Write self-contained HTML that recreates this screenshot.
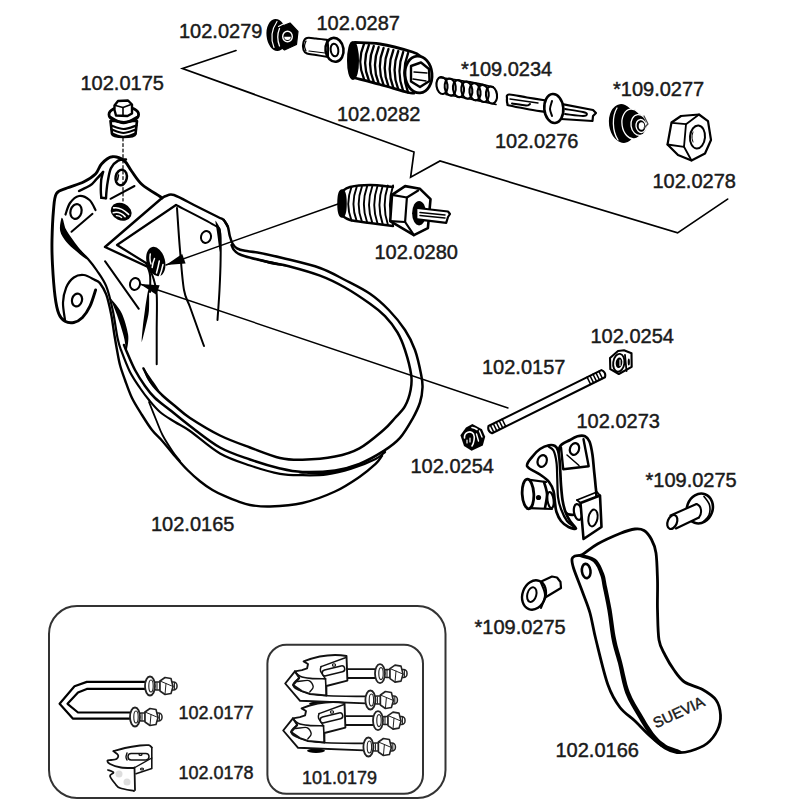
<!DOCTYPE html>
<html><head><meta charset="utf-8">
<style>
html,body{margin:0;padding:0;background:#fff;width:800px;height:800px;overflow:hidden}
svg{position:absolute;left:0;top:0}
text{font-family:"Liberation Sans",sans-serif;fill:#1a1a1a;stroke:#1a1a1a;stroke-width:0.45px}
</style></head><body>
<svg width="800" height="800" viewBox="0 0 800 800">
<g fill="none" stroke="#000" stroke-linecap="round" stroke-linejoin="miter">
<path d="M236.0,50.5 L182.5,68.5 L414.0,152.0 L410.6,177.3 L440.0,161.0 L677.6,232.9 L727.6,199.1" stroke-width="1.7" fill="none" />
<path d="M338.0,204.0 L166.0,265.0" stroke-width="1.4" fill="none" />
<path d="M140.0,284.0 L508.0,408.0" stroke-width="1.4" fill="none" />
</g>
<path d="M166.0,265.0 L185.6,263.4 L182.2,253.9 Z" fill="#000" stroke="none"/>
<path d="M140.0,284.0 L156.4,294.8 L159.6,285.3 Z" fill="#000" stroke="none"/>
<g fill="none" stroke="#333" stroke-width="2">
<rect x="49" y="606" width="396.5" height="192" rx="28"/>
<rect x="267.4" y="644.75" width="155.6" height="149" rx="19"/>
</g>
<g fill="none" stroke="#000" stroke-linecap="round" stroke-linejoin="round">
<path d="M162.0,198.0 C161.7,197.8 163.3,198.8 160.0,196.5 C156.7,194.2 146.8,188.8 142.0,184.5 C137.2,180.2 134.5,175.0 131.5,171.0 C128.5,167.0 127.2,162.9 124.0,160.5 C120.8,158.1 115.8,156.2 112.0,156.8 C108.2,157.3 104.2,161.1 101.5,164.0 C98.8,166.9 98.5,171.0 95.5,174.0 C92.5,177.0 88.2,179.7 83.5,182.0 C78.8,184.3 71.5,186.1 67.0,188.0 C62.5,189.9 58.8,189.8 56.5,193.5 C54.2,197.2 54.2,202.2 53.5,210.0 C52.8,217.8 52.2,230.8 52.0,240.0 C51.8,249.2 52.0,255.7 52.5,265.0 C53.0,274.3 54.0,287.9 55.0,296.0 C56.0,304.1 57.1,309.5 58.8,313.8 C60.4,318.0 62.5,319.8 65.0,321.2 C67.5,322.7 70.8,323.1 73.8,322.5 C76.7,321.9 79.8,320.2 82.5,317.5 C85.2,314.8 87.8,310.8 90.0,306.2 C92.2,301.7 94.7,292.7 95.6,290.0" stroke-width="2.9" fill="none" />
<path d="M65.0,320.0 C64.7,317.1 62.8,307.9 63.0,302.5 C63.2,297.1 64.5,291.7 66.2,287.5 C68.0,283.3 70.8,279.6 73.8,277.5 C76.7,275.4 80.2,274.6 83.8,275.0 C87.3,275.4 93.1,279.2 95.0,280.0" stroke-width="2.2" fill="none" />
<path d="M103.1,171.9 C102.8,173.2 101.6,177.0 101.2,180.0 C100.9,183.0 100.8,187.0 100.8,190.0 C100.8,193.0 101.2,196.5 101.3,197.8" stroke-width="2.4" fill="none" />
<path d="M101.3,197.8 L106.0,198.2" stroke-width="2.4" fill="none" />
<path d="M106.0,198.2 C106.1,196.8 106.3,192.8 106.6,190.0 C106.9,187.2 107.1,184.9 107.8,181.2 C108.5,177.6 109.3,171.5 111.0,168.1 C112.7,164.7 115.6,162.0 118.1,160.6 C120.6,159.2 124.7,159.7 126.0,159.5" stroke-width="2.4" fill="none" />
<path d="M79.0,191.0 C80.8,190.1 87.1,187.5 90.0,185.6 C92.9,183.7 94.1,181.7 96.2,179.4 C98.4,177.1 102.0,173.2 103.1,171.9" stroke-width="2.4" fill="none" />
<path d="M65.5,214.5 C66.2,212.6 67.8,206.1 70.0,203.0 C72.2,199.9 75.8,196.5 79.0,196.0 C82.2,195.5 86.8,197.7 89.5,200.0 C92.2,202.3 94.5,208.3 95.5,210.0" stroke-width="2.2" fill="none" />
<ellipse cx="121.2" cy="177.5" rx="5.6" ry="7.8" transform="rotate(12 121.2 177.5)" stroke-width="2.5" fill="none" />
<path d="M118.5,175.0 L117.5,180.0" stroke-width="1.5" fill="none" />
<ellipse cx="76.0" cy="211.5" rx="5.5" ry="7.5" transform="rotate(15 76.0 211.5)" stroke-width="2.2" fill="none" />
<ellipse cx="77.0" cy="300.0" rx="5.0" ry="6.5" transform="rotate(15 77.0 300.0)" stroke-width="2.2" fill="none" />
<ellipse cx="135.0" cy="284.0" rx="5.0" ry="6.0" transform="rotate(15 135.0 284.0)" stroke-width="2" fill="none" />
<ellipse cx="206.0" cy="237.0" rx="5.0" ry="6.0" transform="rotate(15 206.0 237.0)" stroke-width="2" fill="none" />
<path d="M110.5,198.8 L134.5,186.0" stroke-width="2" fill="none" />
<path d="M71.5,231.8 L92.5,213.8" stroke-width="2" fill="none" />
<path d="M105.0,261.2 L138.8,308.8" stroke-width="2" fill="none" />
<ellipse cx="121.2" cy="211.8" rx="10.8" ry="8.6" transform="rotate(25 121.2 211.8)" stroke-width="0" fill="#000" stroke="none"/>
<path d="M113.7,207.9 Q120.5,206.5 128.6,214.4" stroke="#fff" stroke-width="1.6" fill="none"/>
<path d="M113.3,212.7 Q119.5,210.8 125.1,216.6" stroke="#fff" stroke-width="1.6" fill="none"/>
<path d="M116.4,215.6 Q119.5,215.5 121.6,217.4" stroke="#fff" stroke-width="1.4" fill="none"/>
<path d="M61.2,219.1 C60.8,221.1 59.3,227.1 60.2,230.9 C61.0,234.8 63.9,238.6 66.4,241.9 C69.0,245.2 72.2,247.7 75.4,250.5 C78.6,253.3 83.6,257.4 85.4,258.6 C87.3,259.7 87.7,259.3 86.6,257.4 C85.4,255.6 81.1,250.7 78.6,247.5 C76.1,244.3 73.7,241.2 71.6,238.1 C69.5,235.0 67.3,232.2 65.8,229.1 C64.4,225.9 63.6,220.6 62.8,218.9 C62.0,217.3 61.6,217.1 61.2,219.1Z" stroke="none" fill="#000"/>
<path d="M227.5,226.2 C226.9,225.2 225.3,221.5 223.8,220.0 C222.2,218.5 222.6,219.3 218.0,217.0 C213.4,214.7 203.3,209.7 196.0,206.0 C188.7,202.3 179.0,196.7 174.0,195.0 C169.0,193.3 168.0,195.5 166.0,196.0 C164.0,196.5 162.7,197.7 162.0,198.0" stroke-width="2.4" fill="none" />
<path d="M162.0,198.0 L105.0,247.0 L148.0,267.0" stroke-width="2.4" fill="none" />
<path d="M148.0,267.0 C148.8,268.7 151.6,272.4 153.0,277.0 C154.4,281.6 156.1,285.6 156.7,294.4 C157.3,303.2 156.7,318.4 156.7,330.0 C156.7,341.6 156.7,358.6 156.7,364.3" stroke-width="2" fill="none" />
<path d="M176.0,205.0 L117.0,245.0 L146.0,263.0" stroke-width="2.2" fill="none" />
<path d="M146.0,263.0 C146.7,265.0 149.3,270.2 150.0,275.0 C150.7,279.8 150.0,289.2 150.0,292.0" stroke-width="2" fill="none" />
<path d="M148.0,291.1 C147.3,294.3 145.7,304.7 144.9,310.4 C144.1,316.0 143.6,319.8 143.0,324.8 C142.5,329.7 141.8,337.4 141.7,340.0 C141.6,342.5 141.6,342.5 142.3,340.0 C143.0,337.6 144.9,330.1 146.0,325.2 C147.1,320.4 148.4,316.5 148.9,310.8 C149.4,305.2 149.1,294.4 149.0,291.1 C148.9,287.8 148.7,287.9 148.0,291.1Z" stroke="none" fill="#000"/>
<path d="M176.0,205.0 C182.3,208.3 206.7,220.5 214.0,225.0 C221.3,229.5 218.9,226.2 220.0,232.0 C221.1,237.8 220.7,250.3 220.6,260.0 C220.5,269.7 220.0,280.0 219.5,290.0 C219.0,300.0 217.8,315.0 217.5,320.0" stroke-width="2" fill="none" />
<path d="M215.5,222.1 C215.6,223.9 216.4,227.6 217.0,232.3 C217.7,236.9 218.9,247.1 219.5,250.0 C220.1,253.0 220.3,253.0 220.5,250.0 C220.7,246.9 221.6,236.4 221.0,231.7 C220.3,227.0 217.4,223.5 216.5,221.9 C215.6,220.3 215.4,220.4 215.5,222.1Z" stroke="none" fill="#000"/>
<path d="M177.0,208.0 C177.5,215.0 178.8,236.3 180.0,250.0 C181.2,263.7 182.3,280.5 184.0,290.0 C185.7,299.5 187.3,299.5 190.0,307.0 C192.7,314.5 197.7,328.5 200.0,335.0 C202.3,341.5 203.3,344.2 204.0,346.0" stroke-width="2" fill="none" />
<ellipse cx="155.8" cy="261.5" rx="9.2" ry="15.0" transform="rotate(-14 155.8 261.5)" stroke-width="0" fill="#000" stroke="none"/>
<path d="M150.3,254 Q149.3,259.5 151,264" stroke="#fff" stroke-width="1.4" fill="none"/>
<path d="M154.5,258.5 Q152.5,263.5 152.2,267.5" stroke="#fff" stroke-width="1.5" fill="none"/>
<path d="M159.3,261 Q158.2,267 156.5,273" stroke="#fff" stroke-width="1.5" fill="none"/>
<path d="M163,264.5 Q161.6,271.5 159.2,277" stroke="#fff" stroke-width="1.5" fill="none"/>
<path d="M124.0,345.0 C124.3,345.8 124.2,345.8 126.0,350.0 C127.8,354.2 131.8,364.0 135.0,370.0 C138.2,376.0 141.7,381.3 145.0,386.0 C148.3,390.7 150.8,394.0 155.0,398.0 C159.2,402.0 164.2,405.3 170.0,410.0 C175.8,414.7 181.7,419.8 190.0,426.0 C198.3,432.2 210.0,441.9 220.0,447.5 C230.0,453.1 240.0,456.0 250.0,459.5 C260.0,463.0 271.2,466.4 280.0,468.5 C288.8,470.6 293.3,471.7 302.5,472.0 C311.7,472.3 325.5,471.8 335.0,470.4 C344.5,469.0 351.3,467.1 359.4,463.9 C367.5,460.6 377.0,455.2 383.8,450.9 C390.5,446.6 395.2,443.3 400.0,437.9 C404.8,432.5 409.2,424.6 412.5,418.8 C415.8,412.9 418.3,407.7 420.0,402.5 C421.7,397.3 422.3,392.1 422.5,387.5 C422.7,382.9 422.5,381.2 421.2,375.0 C420.0,368.8 417.7,357.5 415.0,350.0 C412.3,342.5 409.4,336.7 405.0,330.0 C400.6,323.3 394.6,316.0 388.8,310.0 C382.9,304.0 377.3,298.8 370.0,293.8 C362.7,288.8 353.3,284.3 345.0,280.0 C336.7,275.7 330.4,271.7 320.0,268.0 C309.6,264.3 292.9,260.6 282.5,258.0 C272.1,255.4 263.8,253.7 257.5,252.5 C251.2,251.3 248.4,251.5 245.0,250.8 C241.6,250.1 239.1,249.5 237.0,248.3 C234.9,247.1 233.7,245.6 232.5,243.5 C231.3,241.4 230.6,238.8 229.8,236.0 C229.0,233.2 228.8,229.2 227.8,226.5 C226.8,223.8 224.4,221.1 223.8,220.0" stroke-width="2.5" fill="none" />
<path d="M143.5,368.5 C144.9,371.1 148.9,379.6 152.0,384.0 C155.1,388.4 158.2,391.3 162.0,395.0 C165.8,398.7 170.3,402.2 175.0,406.0 C179.7,409.8 182.5,413.1 190.0,418.0 C197.5,422.9 210.0,430.6 220.0,435.5 C230.0,440.4 240.0,443.8 250.0,447.5 C260.0,451.2 271.2,455.9 280.0,458.0 C288.8,460.1 293.3,460.0 302.5,459.8 C311.7,459.6 325.5,458.5 335.0,456.6 C344.5,454.7 351.3,452.9 359.4,448.4 C367.5,443.9 377.8,434.8 383.8,429.8 C389.7,424.7 391.5,421.9 395.0,418.0 C398.5,414.1 402.4,410.9 405.0,406.2 C407.6,401.6 409.6,395.2 410.6,390.0 C411.6,384.8 412.2,381.7 411.2,375.0 C410.3,368.3 407.3,357.1 405.0,350.0 C402.7,342.9 400.8,338.1 397.5,332.5 C394.2,326.9 389.6,321.0 385.0,316.2 C380.4,311.5 376.7,308.5 370.0,303.8 C363.3,299.0 353.3,292.2 345.0,287.5 C336.7,282.8 329.4,279.1 320.0,275.6 C310.6,272.1 297.1,268.4 288.8,266.2 C280.4,264.1 277.3,264.2 270.0,262.5 C262.7,260.8 250.3,257.8 245.0,256.2 C239.7,254.8 239.9,254.6 238.0,253.5 C236.1,252.4 234.9,251.2 233.8,249.8 C232.7,248.4 231.9,245.8 231.5,245.0" stroke-width="2.5" fill="none" />
<path d="M143.1,368.7 C143.8,370.9 146.1,377.4 148.5,381.0 C150.9,384.6 155.7,389.1 157.4,390.5 C159.1,391.9 159.6,391.4 158.6,389.5 C157.6,387.6 153.9,382.5 151.5,379.0 C149.0,375.5 145.3,370.0 143.9,368.3 C142.5,366.5 142.3,366.6 143.1,368.7Z" stroke="none" fill="#000"/>
<path d="M251.9,258.3 C254.9,259.3 263.4,262.4 269.7,263.9 C276.0,265.3 286.5,266.4 289.9,266.8 C293.3,267.2 293.3,267.1 290.1,266.2 C286.8,265.3 276.6,262.5 270.3,261.1 C264.0,259.7 255.1,258.2 252.1,257.7 C249.0,257.2 249.0,257.3 251.9,258.3Z" stroke="none" fill="#000"/>
<path d="M80.0,251.0 C81.3,252.3 85.2,255.8 88.0,259.0 C90.8,262.2 93.5,265.5 96.5,270.0 C99.5,274.5 103.5,279.5 106.2,286.2 C109.0,293.0 110.9,301.9 112.8,310.6 C114.7,319.3 116.2,331.7 117.6,338.3 C119.0,344.9 118.9,344.4 121.0,350.0 C123.1,355.6 126.8,365.7 130.0,372.0 C133.2,378.3 136.8,383.3 140.0,388.0 C143.2,392.7 145.7,396.0 149.0,400.0 C152.3,404.0 155.7,408.3 160.0,412.0 C164.3,415.7 170.0,418.8 175.0,422.0 C180.0,425.2 182.5,425.8 190.0,431.0 C197.5,436.2 210.0,447.8 220.0,453.5 C230.0,459.2 240.0,462.1 250.0,465.5 C260.0,468.9 271.2,472.1 280.0,473.8 C288.8,475.4 294.7,475.1 302.5,475.2 C310.3,475.4 318.8,475.5 326.9,474.4 C335.0,473.3 343.1,471.3 351.2,468.8 C359.4,466.2 370.0,461.8 375.6,459.0 C381.2,456.2 383.4,453.2 385.0,452.0" stroke-width="2.2" fill="none" />
<path d="M300.0,473.7 C305.0,473.8 321.0,475.0 330.2,473.9 C339.4,472.8 347.9,469.9 355.4,467.1 C362.9,464.4 371.9,459.0 375.1,457.3 C378.4,455.5 378.3,455.5 374.9,456.7 C371.5,458.0 362.1,462.5 354.6,464.9 C347.1,467.3 338.9,469.7 329.8,471.1 C320.7,472.5 305.0,472.9 300.0,473.3 C295.0,473.7 295.0,473.6 300.0,473.7Z" stroke="none" fill="#000"/>
<path d="M95.0,280.0 C95.8,280.5 97.9,280.6 99.8,283.0 C101.6,285.4 104.4,289.2 106.2,294.4 C108.1,299.5 109.7,307.1 111.1,313.9 C112.5,320.7 113.4,329.0 114.4,335.0 C115.4,341.0 116.1,345.0 117.0,350.0 C117.9,355.0 118.7,360.0 120.0,365.0 C121.3,370.0 123.0,374.5 125.0,380.0 C127.0,385.5 129.2,392.2 132.0,398.0 C134.8,403.8 138.7,409.7 142.0,415.0 C145.3,420.3 148.6,425.6 152.0,430.0 C155.4,434.4 158.7,436.9 162.5,441.2 C166.3,445.6 170.8,451.5 175.0,456.2 C179.2,461.0 183.3,465.8 187.5,470.0 C191.7,474.2 195.8,477.9 200.0,481.2 C204.2,484.6 208.3,487.5 212.5,490.0 C216.7,492.5 220.8,494.4 225.0,496.2 C229.2,498.1 233.3,499.8 237.5,501.2 C241.7,502.7 244.6,504.1 250.0,505.0 C255.4,505.9 261.2,506.8 270.0,506.5 C278.8,506.2 291.7,505.5 302.5,503.0 C313.3,500.5 325.5,495.9 335.0,491.5 C344.5,487.1 352.6,481.5 359.4,476.9 C366.2,472.3 371.8,467.4 375.6,463.9 C379.4,460.4 380.9,457.1 382.0,455.8" stroke-width="2.4" fill="none" />
<path d="M149.0,402.0 C150.2,405.0 154.0,414.5 156.2,420.0 C158.5,425.5 159.8,429.8 162.5,435.0 C165.2,440.2 169.6,446.9 172.5,451.2 C175.4,455.6 178.8,459.4 180.0,461.0" stroke-width="1.8" fill="none" />
<path d="M110.8,299.4 C111.8,302.1 114.9,308.8 117.0,314.9 C119.1,320.9 122.0,329.6 123.5,335.5 C125.1,341.3 125.6,347.4 126.2,349.7 C126.8,352.1 126.7,352.2 127.0,349.7 C127.3,347.1 129.0,340.7 128.1,334.5 C127.2,328.4 124.4,318.8 121.6,312.9 C118.8,307.1 113.2,301.4 111.4,299.2 C109.6,296.9 109.9,296.8 110.8,299.4Z" stroke="none" fill="#000"/>
<path d="M123.0,138.0 L123.0,201.0" stroke-width="1.2" fill="none" stroke-dasharray="3,2.5"/>
<path d="M110.5,121 L112,134 C113,138 134,138 135.5,134 L137,121 Z" stroke-width="2.6" fill="#fff"/>
<path d="M111.0,125.5 C113.1,126.1 119.2,129.0 123.5,129.0 C127.8,129.0 134.3,126.1 136.5,125.5" stroke-width="2.2" fill="none" />
<path d="M111.5,129.5 C113.5,130.1 119.4,133.0 123.5,133.0 C127.6,133.0 133.9,130.1 136.0,129.5" stroke-width="2.2" fill="none" />
<path d="M112.0,133.5 C113.9,134.1 119.6,137.0 123.5,137.0 C127.4,137.0 133.5,134.1 135.5,133.5" stroke-width="2.2" fill="none" />
<ellipse cx="123.8" cy="114.5" rx="14.8" ry="7.8" transform="rotate(0 123.8 114.5)" stroke-width="2.8" fill="#fff" />
<path d="M110.0,117.0 C112.2,118.0 118.9,123.0 123.5,123.0 C128.1,123.0 135.2,118.0 137.5,117.0" stroke-width="2.6" fill="none" />
<path d="M114.5,105.5 L118.0,101.0 L128.0,100.5 L132.0,104.5 L132.0,113.5 L127.5,116.0 L116.0,115.5 L114.5,110.0Z" stroke-width="2.4" fill="#fff" />
<path d="M115.5,105.5 L123.0,107.5 L131.0,104.5" stroke-width="1.6" fill="none" />
<path d="M123.0,107.5 L123.0,115.5" stroke-width="1.6" fill="none" />
<path d="M342,192 L393,185 L393,226 L342,216 Z" stroke="none" fill="#fff"/>
<path d="M341.0,192.0 C342.5,191.2 345.2,188.2 350.0,187.0 C354.8,185.8 362.8,185.0 370.0,185.0 C377.2,185.0 389.2,186.7 393.0,187.0" stroke-width="2.4" fill="none" />
<path d="M341.0,215.0 C342.5,215.8 345.2,218.7 350.0,220.0 C354.8,221.3 362.8,222.0 370.0,223.0 C377.2,224.0 389.2,225.5 393.0,226.0" stroke-width="2.4" fill="none" />
<ellipse cx="342.0" cy="203.5" rx="3.5" ry="13.0" transform="rotate(0 342.0 203.5)" stroke-width="2.5" fill="#000" />
<path d="M351.5,187.0 Q345.0,203.8 351.5,220.5" stroke-width="1.9" fill="none"/>
<path d="M356.7,186.8 Q350.2,203.9 356.7,221.1" stroke-width="1.9" fill="none"/>
<path d="M361.9,186.6 Q355.4,204.1 361.9,221.7" stroke-width="1.9" fill="none"/>
<path d="M367.1,186.4 Q360.6,204.4 367.1,222.3" stroke-width="1.9" fill="none"/>
<path d="M372.3,186.2 Q365.8,204.6 372.3,222.9" stroke-width="1.9" fill="none"/>
<path d="M377.5,186.0 Q371.0,204.8 377.5,223.5" stroke-width="1.9" fill="none"/>
<path d="M382.7,185.8 Q376.2,204.9 382.7,224.1" stroke-width="1.9" fill="none"/>
<path d="M387.9,185.6 Q381.4,205.1 387.9,224.7" stroke-width="1.9" fill="none"/>
<path d="M393.1,185.4 Q386.6,205.4 393.1,225.3" stroke-width="1.9" fill="none"/>
<path d="M392.0,194.9 L405.1,186.1 L420.0,188.8 L430.5,199.2 L427.9,228.1 L413.9,235.1 L390.2,221.1Z" stroke-width="2.6" fill="#fff" />
<path d="M392.0,194.9 L406.9,197.5 L418.2,190.5" stroke-width="2.2" fill="none" />
<path d="M406.9,197.5 L405.1,222.0 L390.2,221.1" stroke-width="2.2" fill="none" />
<path d="M405.1,222.0 L413.9,235.1" stroke-width="2.2" fill="none" />
<ellipse cx="419.1" cy="213.2" rx="7.0" ry="12.2" transform="rotate(0 419.1 213.2)" stroke-width="0" fill="#000" stroke="none"/>
<path d="M417.4,208.0 L448.0,211.5 L450.0,214.0 L448.0,217.0 L446.2,222.9 L417.4,219.4" stroke-width="2.2" fill="#fff" />
<path d="M420.0,212.5 L445.0,215.0" stroke-width="1.5" fill="none" />
<path d="M420.0,215.5 L445.0,218.0" stroke-width="1.5" fill="none" />
<ellipse cx="276.5" cy="35.0" rx="10.0" ry="16.0" transform="rotate(-5 276.5 35.0)" stroke-width="0" fill="#000" stroke="none"/>
<path d="M277,21.5 Q268.5,34 274,47.5" stroke="#fff" stroke-width="1.2" fill="none"/>
<path d="M278.5,27.5 L290.0,23.0 L298.0,31.5 L296.5,44.5 L284.5,50.0 L279.5,46.0Z" stroke-width="1.2" fill="#000" />
<path d="M279.5,28.5 Q276,37 279.5,46" stroke="#fff" stroke-width="1.3" fill="none"/>
<path d="M278.5,26.5 L286,22.5" stroke="#fff" stroke-width="1.1" fill="none"/>
<ellipse cx="287.5" cy="36.5" rx="4.8" ry="5.2" transform="rotate(0 287.5 36.5)" stroke-width="1.4" fill="#000" stroke="#fff"/>
<path d="M284.2,36.8 A3.3,3.3 0 0,0 290.8,36.8 Z" fill="#fff" stroke="none"/>
<path d="M328.0,40.0 C326.0,39.8 319.5,38.8 316.0,38.5 C312.5,38.2 309.1,37.4 307.0,38.0 C304.9,38.6 304.1,40.0 303.5,42.0 C302.9,44.0 302.9,48.1 303.5,50.0 C304.1,51.9 304.9,52.7 307.0,53.5 C309.1,54.3 312.5,54.4 316.0,55.0 C319.5,55.6 326.0,56.7 328.0,57.0" stroke-width="2" fill="#fff" />
<path d="M306.0,41.0 C305.8,41.8 304.5,44.3 304.5,46.0 C304.5,47.7 305.8,50.2 306.0,51.0" stroke-width="1.2" fill="none" />
<path d="M309.0,51.0 L325.0,53.0" stroke-width="1.2" fill="none" />
<ellipse cx="334.5" cy="49.8" rx="9.0" ry="12.0" transform="rotate(-8 334.5 49.8)" stroke-width="2.6" fill="#fff" />
<ellipse cx="334.5" cy="50.0" rx="3.8" ry="6.3" transform="rotate(-8 334.5 50.0)" stroke-width="2" fill="none" />
<path d="M327.0,40.0 C327.2,40.8 327.8,42.3 328.0,45.0 C328.2,47.7 328.0,54.2 328.0,56.0" stroke-width="2" fill="none" />
<path d="M356,42 L412,51 L424,70 L408,93 L356,78 Z" stroke="none" fill="#fff"/>
<path d="M355.0,42.5 C359.2,42.8 370.4,42.4 380.0,44.0 C389.6,45.6 405.8,50.0 412.5,52.0 C419.2,54.0 418.8,55.3 420.0,56.0" stroke-width="2.8" fill="none" />
<path d="M355.0,78.0 C359.2,79.1 371.2,82.1 380.0,84.5 C388.8,86.9 402.3,91.1 408.0,92.5 C413.7,93.9 413.0,92.9 414.0,93.0" stroke-width="2.8" fill="none" />
<ellipse cx="353.0" cy="60.5" rx="4.5" ry="18.0" transform="rotate(0 353.0 60.5)" stroke-width="3" fill="#000" />
<path d="M364.0,44.0 Q356.5,61.5 364.0,79.0" stroke-width="2.3" fill="none"/>
<path d="M368.9,45.0 Q361.4,62.8 368.9,80.5" stroke-width="2.3" fill="none"/>
<path d="M373.8,46.0 Q366.3,64.0 373.8,82.0" stroke-width="2.3" fill="none"/>
<path d="M378.7,47.0 Q371.2,65.2 378.7,83.5" stroke-width="2.3" fill="none"/>
<path d="M383.6,48.0 Q376.1,66.5 383.6,85.0" stroke-width="2.3" fill="none"/>
<path d="M388.5,49.0 Q381.0,67.8 388.5,86.5" stroke-width="2.3" fill="none"/>
<path d="M393.4,50.0 Q385.9,69.0 393.4,88.0" stroke-width="2.3" fill="none"/>
<path d="M398.3,51.0 Q390.8,70.2 398.3,89.5" stroke-width="2.3" fill="none"/>
<path d="M403.2,52.0 Q395.7,71.5 403.2,91.0" stroke-width="2.3" fill="none"/>
<path d="M408.1,53.0 Q400.6,72.8 408.1,92.5" stroke-width="2.3" fill="none"/>
<ellipse cx="418.5" cy="74.5" rx="13.5" ry="18.5" transform="rotate(-5 418.5 74.5)" stroke-width="2.8" fill="#fff" />
<path d="M411.0,66.0 L421.0,62.5 L429.0,69.0 L429.5,81.0 L420.0,87.0 L411.0,81.5Z" stroke-width="2.4" fill="none" />
<path d="M414.0,72.0 L427.0,73.0" stroke-width="1.4" fill="none" />
<path d="M413.0,79.0 L426.0,81.0" stroke-width="1.4" fill="none" />
<ellipse cx="442.0" cy="85.5" rx="5.5" ry="8.6" transform="rotate(-8 442.0 85.5)" stroke-width="2.1" fill="none" />
<ellipse cx="450.2" cy="87.1" rx="5.5" ry="8.6" transform="rotate(-8 450.2 87.1)" stroke-width="2.1" fill="none" />
<ellipse cx="458.5" cy="88.7" rx="5.5" ry="8.6" transform="rotate(-8 458.5 88.7)" stroke-width="2.1" fill="none" />
<ellipse cx="466.8" cy="90.2" rx="5.5" ry="8.6" transform="rotate(-8 466.8 90.2)" stroke-width="2.1" fill="none" />
<ellipse cx="475.0" cy="91.8" rx="5.5" ry="8.6" transform="rotate(-8 475.0 91.8)" stroke-width="2.1" fill="none" />
<ellipse cx="483.2" cy="93.4" rx="5.5" ry="8.6" transform="rotate(-8 483.2 93.4)" stroke-width="2.1" fill="none" />
<ellipse cx="491.5" cy="95.0" rx="5.5" ry="8.6" transform="rotate(-8 491.5 95.0)" stroke-width="2.1" fill="none" />
<path d="M440.0,77.5 C445.0,78.2 461.2,80.4 470.0,82.0 C478.8,83.6 489.2,86.2 493.0,87.0" stroke-width="1.8" fill="none" />
<path d="M446.0,94.5 C450.0,95.2 461.7,97.3 470.0,99.0 C478.3,100.7 491.7,103.6 496.0,104.5" stroke-width="1.6" fill="none" />
<path d="M546.0,100.5 C542.8,100.0 533.2,98.5 527.0,97.5 C520.8,96.5 512.3,94.2 509.0,94.5 C505.7,94.8 507.2,97.4 507.0,99.0 C506.8,100.6 507.1,102.9 507.5,104.0 C507.9,105.1 506.2,104.7 509.5,105.5 C512.8,106.3 521.1,107.9 527.0,109.0 C532.9,110.1 542.0,111.5 545.0,112.0" stroke-width="2.2" fill="#fff" />
<path d="M510.0,99.0 L538.0,103.0" stroke-width="1.4" fill="none" />
<path d="M512.0,103.5 C514.3,103.8 523.0,105.4 526.0,105.5 C529.0,105.6 529.3,104.2 530.0,104.0" stroke-width="2" fill="none" />
<path d="M561.0,103.8 L593.0,110.0 L596.0,113.0 L593.0,116.0 L592.5,121.0 L561.0,119.0" stroke-width="2.2" fill="#fff" />
<path d="M565.0,109.0 C568.0,109.5 579.3,111.2 583.0,112.0 C586.7,112.8 587.0,113.3 587.0,114.0 C587.0,114.7 586.7,116.0 583.0,116.0 C579.3,116.0 568.0,114.3 565.0,114.0" stroke-width="1.8" fill="none" />
<ellipse cx="553.8" cy="108.5" rx="9.5" ry="14.5" transform="rotate(-5 553.8 108.5)" stroke-width="2.6" fill="#fff" />
<path d="M552.0,101.0 C551.7,102.3 550.0,106.5 550.0,109.0 C550.0,111.5 551.7,114.8 552.0,116.0" stroke-width="2" fill="none" />
<ellipse cx="622.5" cy="123.5" rx="13.5" ry="19.5" transform="rotate(-8 622.5 123.5)" fill="#000" stroke="none"/>
<path d="M617,108 C612,116 612,131 618,140" stroke="#fff" stroke-width="1.3" fill="none"/>
<ellipse cx="632.5" cy="124" rx="10.5" ry="15" transform="rotate(-8 632.5 124)" fill="#000" stroke="#fff" stroke-width="1.3"/>
<ellipse cx="639" cy="125" rx="8" ry="10.5" transform="rotate(-8 639 125)" fill="#000" stroke="#fff" stroke-width="1.3"/>
<ellipse cx="641" cy="126" rx="5" ry="6.5" transform="rotate(-8 641 126)" fill="#000" stroke="#fff" stroke-width="1.3"/>
<ellipse cx="641.5" cy="126" rx="2.8" ry="3.8" fill="#fff" stroke="none"/>
<path d="M644.0,116.0 L648.0,124.0 L644.0,128.0" stroke-width="1.2" fill="none" stroke="#444"/>
<path d="M671.5,122.5 L681.0,116.0 L699.0,114.5 L708.0,121.2 L711.0,140.0 L705.0,153.5 L691.5,160.5 L678.0,155.0 L667.5,144.5Z" stroke-width="2.2" fill="#fff" />
<path d="M672.0,122.8 L686.0,124.2 L699.0,114.5" stroke-width="1.8" fill="none" />
<path d="M686.0,124.2 L684.0,146.8 L667.5,144.5" stroke-width="1.8" fill="none" />
<path d="M684.0,146.8 L691.5,160.5" stroke-width="1.8" fill="none" />
<ellipse cx="697.5" cy="137.0" rx="7.5" ry="11.5" transform="rotate(5 697.5 137.0)" stroke-width="2" fill="none" />
<path d="M693.0,132.0 C692.8,132.8 692.0,135.3 692.0,137.0 C692.0,138.7 692.8,141.2 693.0,142.0" stroke-width="1" fill="none" />
<g transform="translate(488.5 430.5) rotate(-26.35)">
<path d="M2,-4 L128.0,-4 Q131.5,0 128.0,4 L2,4 Q-1.5,0 2,-4 Z" stroke-width="2.1" fill="#fff"/>
<path d="M4.0,-4.0 L4.0,4.0" stroke-width="1.5" fill="none" />
<path d="M7.3,-4.0 L7.3,4.0" stroke-width="1.5" fill="none" />
<path d="M10.6,-4.0 L10.6,4.0" stroke-width="1.5" fill="none" />
<path d="M13.9,-4.0 L13.9,4.0" stroke-width="1.5" fill="none" />
<path d="M17.2,-4.0 L17.2,4.0" stroke-width="1.5" fill="none" />
<path d="M112.0,-4.0 L112.0,4.0" stroke-width="1.5" fill="none" />
<path d="M115.3,-4.0 L115.3,4.0" stroke-width="1.5" fill="none" />
<path d="M118.6,-4.0 L118.6,4.0" stroke-width="1.5" fill="none" />
<path d="M121.9,-4.0 L121.9,4.0" stroke-width="1.5" fill="none" />
<path d="M125.2,-4.0 L125.2,4.0" stroke-width="1.5" fill="none" />
</g>
<path d="M610.0,358.0 L618.0,351.0 L624.0,350.3 L631.5,353.2 L631.7,366.8 L618.8,374.0 L610.3,369.2Z" stroke-width="2.1" fill="#fff" />
<path d="M625.0,355.0 L626.5,371.0" stroke-width="1.8" fill="none" />
<ellipse cx="618.8" cy="362.8" rx="5.6" ry="9.0" transform="rotate(8 618.8 362.8)" stroke-width="1.9" fill="#fff" />
<ellipse cx="619.0" cy="362.8" rx="3.3" ry="5.3" transform="rotate(8 619.0 362.8)" stroke-width="0" fill="#000" stroke="none"/>
<path d="M620.0,360.0 L620.0,365.5" stroke-width="1.1" fill="none" stroke="#fff"/>
<ellipse cx="628.8" cy="362.0" rx="1.1" ry="3.6" transform="rotate(0 628.8 362.0)" stroke-width="0" fill="#000" stroke="none"/>
<path d="M472.4,424.0 L482.0,429.2 L485.2,436.8 L482.8,445.6 L471.6,450.8 L464.0,446.0 L460.4,435.2 L466.0,427.6Z" stroke-width="0" fill="#000" stroke="none"/>
<path d="M464.5,438 C464,432 471,430 473.5,434 C475,437 474,443 472,446" stroke="#fff" stroke-width="1.6" fill="none"/>
<path d="M467,440 L467,443" stroke="#fff" stroke-width="1.2" fill="none"/>
<path d="M470,438 L470,442" stroke="#fff" stroke-width="1.2" fill="none"/>
<path d="M476.5,434 L478.5,441" stroke="#fff" stroke-width="1.4" fill="none"/>
<path d="M479.5,431 L482,437" stroke="#fff" stroke-width="1.4" fill="none"/>
<path d="M472,427.5 Q475,428 477,429.5" stroke="#fff" stroke-width="1.6" fill="none"/>
<path d="M559.5,447.5 C561.3,442.5 567.0,441.9 570.0,440.0 C573.0,438.1 575.0,436.8 577.5,436.2 C580.0,435.6 583.0,435.3 585.0,436.2 C587.0,437.1 588.2,438.4 589.5,441.5 C590.8,444.6 591.8,450.2 592.5,455.0 C593.2,459.8 593.5,465.0 594.0,470.0 C594.5,475.0 595.1,480.0 595.5,485.0 C595.9,490.0 597.1,495.8 596.2,500.0 C595.3,504.2 595.2,508.0 590.0,510.0 C584.8,512.0 570.2,518.7 565.0,512.0 C559.8,505.3 559.9,480.8 559.0,470.0 C558.1,459.2 557.7,452.5 559.5,447.5Z" stroke-width="2.7" fill="#fff" />
<path d="M561.0,447.5 L563.2,469.2 L588.7,466.2 L583.5,439.2" stroke-width="2.4" fill="none" />
<ellipse cx="574.5" cy="449.0" rx="4.5" ry="6.0" transform="rotate(20 574.5 449.0)" stroke-width="2.2" fill="none" />
<path d="M567.0,455.0 L579.0,465.5" stroke-width="1.5" fill="none" />
<path d="M528,480 L546,482 L552,507 L529,508 Z" fill="#fff" stroke="none"/>
<path d="M528.0,479.7 L546.0,482.0" stroke-width="2.2" fill="none" />
<path d="M529.5,508.2 L552.0,509.0" stroke-width="2.2" fill="none" />
<ellipse cx="528.0" cy="494.0" rx="5.8" ry="14.8" transform="rotate(-3 528.0 494.0)" stroke-width="2.8" fill="#fff" />
<path d="M544.0,482.0 C544.5,484.0 546.8,489.7 547.0,494.0 C547.2,498.3 545.3,505.7 545.0,508.0" stroke-width="2.6" fill="none" />
<ellipse cx="538.5" cy="497.5" rx="2.6" ry="2.6" transform="rotate(0 538.5 497.5)" stroke-width="0" fill="#000" />
<ellipse cx="550.5" cy="500.0" rx="3.0" ry="8.0" transform="rotate(-8 550.5 500.0)" stroke-width="2" fill="#fff" />
<path d="M527.2,466.2 C526.0,463.2 530.4,459.4 532.5,456.5 C534.6,453.6 537.2,450.9 540.0,449.0 C542.8,447.1 546.5,445.7 549.0,445.2 C551.5,444.7 553.5,445.1 555.0,446.0 C556.5,446.9 557.2,448.2 558.0,450.5 C558.8,452.8 559.1,456.2 559.5,459.5 C559.9,462.8 560.0,465.8 560.2,470.0 C560.5,474.2 560.6,480.0 561.0,485.0 C561.4,490.0 561.8,495.5 562.5,500.0 C563.2,504.5 564.2,508.5 565.5,512.0 C566.8,515.5 568.2,518.2 570.0,521.0 C571.8,523.8 576.2,527.5 576.0,528.5 C575.8,529.5 571.0,528.2 568.5,527.0 C566.0,525.8 563.0,523.5 561.0,521.0 C559.0,518.5 557.5,515.0 556.5,512.0 C555.5,509.0 555.5,506.5 555.0,503.0 C554.5,499.5 554.5,494.5 553.5,491.0 C552.5,487.5 551.2,484.8 549.0,482.0 C546.8,479.2 543.6,477.1 540.0,474.5 C536.4,471.9 528.5,469.2 527.2,466.2Z" stroke-width="2.7" fill="#fff"/>
<path d="M547.5,446.0 C548.5,446.8 552.0,447.8 553.5,450.5 C555.0,453.2 555.9,458.0 556.5,462.5 C557.1,467.0 557.0,471.8 557.2,477.5 C557.5,483.2 557.4,491.8 558.0,497.0 C558.6,502.2 559.5,505.0 561.0,509.0 C562.5,513.0 564.8,518.0 567.0,521.0 C569.2,524.0 573.2,526.0 574.5,527.0" stroke-width="2.2" fill="none" />
<ellipse cx="542.2" cy="461.0" rx="4.5" ry="6.0" transform="rotate(20 542.2 461.0)" stroke-width="2.2" fill="none" />
<ellipse cx="578.0" cy="512.0" rx="4.0" ry="8.0" transform="rotate(-10 578.0 512.0)" stroke-width="2.2" fill="#fff" />
<path d="M580.5,503.0 L600.0,495.5 L601.5,527.0 L583.5,539.0Z" stroke-width="2.6" fill="#fff" />
<path d="M577.0,500.0 L597.0,492.0 L600.0,495.5" stroke-width="1.8" fill="none" />
<path d="M577.0,500.0 L580.5,503.0" stroke-width="1.8" fill="none" />
<ellipse cx="593.0" cy="518.0" rx="4.5" ry="8.5" transform="rotate(10 593.0 518.0)" stroke-width="2" fill="none" />
<ellipse cx="699.8" cy="508.5" rx="12.8" ry="15.2" transform="rotate(20 699.8 508.5)" stroke-width="2.6" fill="#fff" />
<path d="M704.0,496.5 C704.9,497.9 708.7,501.9 709.5,505.0 C710.3,508.1 710.0,512.2 709.0,515.0 C708.0,517.8 704.4,520.4 703.5,521.5" stroke-width="1.6" fill="none" />
<path d="M671,515.5 L696.5,504 C701,505 702.5,513 699,517.5 L676,528.5 Z" fill="#fff" stroke="none"/>
<path d="M670.5,515.5 L696.5,504.0" stroke-width="2.1" fill="none" />
<path d="M676.0,528.5 L699.0,517.5" stroke-width="2.1" fill="none" />
<path d="M696.5,504 C701.5,505.5 702.5,513 699,517.5" stroke-width="2" fill="none"/>
<ellipse cx="672.3" cy="522.0" rx="4.6" ry="7.3" transform="rotate(22 672.3 522.0)" stroke-width="2.2" fill="#fff" />
<path d="M540,583 L552,577 L560,581 L561,588 L546,598 Z" fill="#fff" stroke="none"/>
<path d="M538.0,583.0 L552.0,576.5 L557.0,577.5 L560.5,582.0 L561.0,588.0 L546.0,597.0" stroke-width="2.2" fill="none" />
<ellipse cx="534.0" cy="595.0" rx="11.5" ry="15.0" transform="rotate(20 534.0 595.0)" stroke-width="2.4" fill="#fff" />
<path d="M541.0,583.0 C541.7,585.0 545.0,590.8 545.0,595.0 C545.0,599.2 541.7,605.8 541.0,608.0" stroke-width="2" fill="none" />
<ellipse cx="531.8" cy="594.6" rx="4.5" ry="7.5" transform="rotate(15 531.8 594.6)" stroke-width="2" fill="none" />
<path d="M572.0,559.0 C572.2,557.0 573.2,556.8 575.0,556.0 C576.8,555.2 578.8,556.5 582.5,554.5 C586.2,552.5 591.2,547.5 597.5,544.0 C603.8,540.5 613.8,536.0 620.0,533.5 C626.2,531.0 631.0,529.5 635.0,529.0 C639.0,528.5 641.2,528.8 644.0,530.5 C646.8,532.2 649.5,535.8 651.5,539.5 C653.5,543.2 655.0,546.2 656.0,553.0 C657.0,559.8 657.2,570.5 657.5,580.0 C657.8,589.5 657.2,600.0 657.5,610.0 C657.8,620.0 657.8,632.5 659.0,640.0 C660.2,647.5 662.5,650.0 665.0,655.0 C667.5,660.0 670.8,665.5 674.0,670.0 C677.2,674.5 679.8,678.8 684.5,682.0 C689.2,685.2 697.2,686.5 702.5,689.5 C707.8,692.5 713.0,695.8 716.0,700.0 C719.0,704.2 720.2,710.0 720.5,715.0 C720.8,720.0 719.8,725.2 717.5,730.0 C715.2,734.8 711.5,740.0 707.0,743.5 C702.5,747.0 695.5,749.5 690.5,751.0 C685.5,752.5 681.2,753.0 677.0,752.5 C672.8,752.0 669.5,750.8 665.0,748.0 C660.5,745.2 655.0,740.5 650.0,736.0 C645.0,731.5 640.0,725.8 635.0,721.0 C630.0,716.2 624.5,713.5 620.0,707.5 C615.5,701.5 612.0,696.2 608.0,685.0 C604.0,673.8 599.0,652.0 596.0,640.0 C593.0,628.0 592.2,621.0 590.0,613.0 C587.8,605.0 585.2,599.5 582.5,592.0 C579.8,584.5 575.2,573.5 573.5,568.0 C571.8,562.5 571.8,561.0 572.0,559.0Z" stroke-width="2.8" fill="#fff" />
<path d="M579.5,556.8 C581.7,558.1 589.8,559.0 593.2,562.0 C596.6,565.0 598.4,570.4 600.0,574.8 C601.7,579.1 601.7,582.0 602.9,587.9 C604.2,593.9 605.9,601.6 607.4,610.4 C608.9,619.1 610.1,631.6 611.8,640.4 C613.6,649.2 615.6,654.2 617.9,663.0 C620.1,671.9 622.1,684.4 625.3,693.3 C628.6,702.2 633.2,708.8 637.5,716.2 C641.8,723.5 646.8,732.1 651.2,737.4 C655.6,742.8 659.2,745.8 664.0,748.3 C668.7,750.9 676.9,752.3 679.6,752.6 C682.4,753.0 682.6,751.7 680.4,750.4 C678.1,749.0 670.3,747.3 666.0,744.7 C661.8,742.0 658.9,739.7 654.8,734.6 C650.7,729.4 645.7,721.0 641.5,713.8 C637.3,706.7 632.9,700.3 629.7,691.7 C626.4,683.1 624.4,670.6 622.1,662.0 C619.9,653.3 617.9,648.3 616.2,639.6 C614.4,630.9 613.1,618.4 611.6,609.6 C610.1,600.9 608.3,593.1 607.1,587.1 C605.8,581.0 605.8,577.9 604.0,573.2 C602.1,568.6 599.7,562.1 595.8,559.0 C591.9,555.8 583.2,554.5 580.5,554.2 C577.7,553.8 577.4,555.5 579.5,556.8Z" stroke="none" fill="#000"/>
<ellipse cx="586.2" cy="571.0" rx="4.3" ry="7.2" transform="rotate(-8 586.2 571.0)" stroke-width="2.6" fill="none" />
<path d="M146.0,681.9 L86.8,681.9 L74.5,686.2 L59.6,703.8 L72.8,718.6 L131.0,718.6" stroke-width="2.2" fill="none" />
<path d="M146.0,688.9 L86.8,688.9 L78.0,692.4 L67.5,703.8 L78.0,712.5 L131.0,712.5" stroke-width="2.2" fill="none" />
<g stroke="#222">
<rect x="153.0" y="682.0" width="24" height="8" rx="3.5" fill="#fff" stroke-width="1.5"/>
<path d="M157.0,682.7 L157.0,689.3" stroke-width="1.1" fill="none" />
<path d="M159.9,682.7 L159.9,689.3" stroke-width="1.1" fill="none" />
<path d="M162.8,682.7 L162.8,689.3" stroke-width="1.1" fill="none" />
<path d="M165.7,682.7 L165.7,689.3" stroke-width="1.1" fill="none" />
<path d="M168.6,682.7 L168.6,689.3" stroke-width="1.1" fill="none" />
<path d="M171.5,682.7 L171.5,689.3" stroke-width="1.1" fill="none" />
<path d="M174.4,682.7 L174.4,689.3" stroke-width="1.1" fill="none" />
<ellipse cx="150.0" cy="686.0" rx="5.0" ry="9.5" transform="rotate(0 150.0 686.0)" stroke-width="1.8" fill="#fff" />
<ellipse cx="151.0" cy="686.0" rx="2.2" ry="6.0" transform="rotate(0 151.0 686.0)" stroke-width="1.1" fill="none" />
<path d="M160.0,681.0 L165.0,677.5 L171.0,678.5 L173.0,686.5 L171.0,693.5 L165.0,694.5 L160.0,691.0Z" stroke-width="1.6" fill="#fff" />
<path d="M160.0,681.0 L166.0,683.5 L173.0,686.5" stroke-width="1.0" fill="none" />
<path d="M166.0,683.5 L165.0,694.5" stroke-width="1.0" fill="none" />
</g>
<g stroke="#222">
<rect x="138.0" y="713.0" width="24" height="8" rx="3.5" fill="#fff" stroke-width="1.5"/>
<path d="M142.0,713.7 L142.0,720.3" stroke-width="1.1" fill="none" />
<path d="M144.9,713.7 L144.9,720.3" stroke-width="1.1" fill="none" />
<path d="M147.8,713.7 L147.8,720.3" stroke-width="1.1" fill="none" />
<path d="M150.7,713.7 L150.7,720.3" stroke-width="1.1" fill="none" />
<path d="M153.6,713.7 L153.6,720.3" stroke-width="1.1" fill="none" />
<path d="M156.5,713.7 L156.5,720.3" stroke-width="1.1" fill="none" />
<path d="M159.4,713.7 L159.4,720.3" stroke-width="1.1" fill="none" />
<ellipse cx="135.0" cy="717.0" rx="5.0" ry="9.5" transform="rotate(0 135.0 717.0)" stroke-width="1.8" fill="#fff" />
<ellipse cx="136.0" cy="717.0" rx="2.2" ry="6.0" transform="rotate(0 136.0 717.0)" stroke-width="1.1" fill="none" />
<path d="M145.0,712.0 L150.0,708.5 L156.0,709.5 L158.0,717.5 L156.0,724.5 L150.0,725.5 L145.0,722.0Z" stroke-width="1.6" fill="#fff" />
<path d="M145.0,712.0 L151.0,714.5 L158.0,717.5" stroke-width="1.0" fill="none" />
<path d="M151.0,714.5 L150.0,725.5" stroke-width="1.0" fill="none" />
</g>
<g stroke="#111">
<path d="M113.5,751.2 C115.4,750.7 120.6,749.0 125.0,748.0 C129.4,747.0 136.0,746.0 140.0,745.5 C144.0,745.0 146.8,744.9 148.8,745.2 C150.7,745.6 151.2,747.1 151.8,747.5" stroke-width="1.8" fill="none" />
<path d="M151.8,747.5 L151.8,768.5 L136.0,773.8" stroke-width="1.6" fill="#fff" />
<path d="M113.5,751.2 C114.2,751.9 117.5,753.7 118.0,755.0 C118.5,756.3 117.7,758.2 116.5,759.0 C115.3,759.8 112.5,759.8 111.0,760.0 C109.5,760.2 107.7,759.8 107.5,760.5 C107.3,761.2 107.8,762.8 110.0,764.0 C112.2,765.2 117.0,766.8 121.0,767.5 C125.0,768.2 131.8,767.9 134.0,768.0" stroke-width="1.8" fill="none" />
<path d="M134.0,768.0 L151.8,758.0" stroke-width="1.4" fill="none" />
<path d="M134.5,767.5 L135.0,790.0" stroke-width="1.8" fill="none" />
<path d="M108.0,770.0 C108.9,770.4 113.2,771.5 113.5,772.5 C113.8,773.5 109.8,774.2 110.0,776.0 C110.2,777.8 113.3,781.5 115.0,783.5 C116.7,785.5 116.8,786.8 120.0,788.0 C123.2,789.2 131.7,790.5 134.0,791.0" stroke-width="1.8" fill="none" />
<rect x="128" y="753.5" width="21" height="6.5" rx="3.2" stroke-width="1.5" fill="#fff"/>
<ellipse cx="140.5" cy="754.5" rx="1.5" ry="1.0" transform="rotate(0 140.5 754.5)" stroke-width="1.2" fill="none" />
<ellipse cx="142.0" cy="769.0" rx="1.5" ry="1.0" transform="rotate(0 142.0 769.0)" stroke-width="1.2" fill="none" />
<ellipse cx="119.0" cy="774.0" rx="3.5" ry="3.5" transform="rotate(0 119.0 774.0)" stroke-width="0" fill="#ddd" stroke="none"/>
<ellipse cx="127.0" cy="782.0" rx="3.5" ry="3.5" transform="rotate(0 127.0 782.0)" stroke-width="0" fill="#ddd" stroke="none"/>
<path d="M127.0,753.0 C126.8,753.7 126.0,755.8 126.0,757.0 C126.0,758.2 126.8,759.5 127.0,760.0" stroke-width="1.4" fill="none" />
</g>
<g id="clamp" stroke="#111">
<path d="M346.8,669.2 L376.0,669.2" stroke-width="1.8" fill="none" />
<path d="M346.8,678.0 L376.0,678.0" stroke-width="1.8" fill="none" />
<g stroke="#222">
<rect x="383.0" y="669.6" width="24" height="8" rx="3.5" fill="#fff" stroke-width="1.5"/>
<path d="M387.0,670.3 L387.0,676.9" stroke-width="1.1" fill="none" />
<path d="M389.9,670.3 L389.9,676.9" stroke-width="1.1" fill="none" />
<path d="M392.8,670.3 L392.8,676.9" stroke-width="1.1" fill="none" />
<path d="M395.7,670.3 L395.7,676.9" stroke-width="1.1" fill="none" />
<path d="M398.6,670.3 L398.6,676.9" stroke-width="1.1" fill="none" />
<path d="M401.5,670.3 L401.5,676.9" stroke-width="1.1" fill="none" />
<path d="M404.4,670.3 L404.4,676.9" stroke-width="1.1" fill="none" />
<ellipse cx="380.0" cy="673.6" rx="5.0" ry="9.5" transform="rotate(0 380.0 673.6)" stroke-width="1.8" fill="#fff" />
<ellipse cx="381.0" cy="673.6" rx="2.2" ry="6.0" transform="rotate(0 381.0 673.6)" stroke-width="1.1" fill="none" />
<path d="M390.0,668.6 L395.0,665.1 L401.0,666.1 L403.0,674.1 L401.0,681.1 L395.0,682.1 L390.0,678.6Z" stroke-width="1.6" fill="#fff" />
<path d="M390.0,668.6 L396.0,671.1 L403.0,674.1" stroke-width="1.0" fill="none" />
<path d="M396.0,671.1 L395.0,682.1" stroke-width="1.0" fill="none" />
</g>
<ellipse cx="318.0" cy="703.8" rx="9.0" ry="2.2" transform="rotate(0 318.0 703.8)" stroke-width="0" fill="#000" stroke="none"/>
<path d="M294.9,671.4 L285.25,683.5 L300.1,700.75 L366,703.4 L366,696.4 L325.5,695.5 L301.9,691.1 L293.1,685 L299.25,678 Z" fill="#fff" stroke="none"/>
<path d="M294.9,671.4 L285.2,683.5 L300.1,700.8 L366.0,703.4" stroke-width="1.9" fill="none" />
<path d="M299.2,678.0 C298.2,679.2 292.7,682.8 293.1,685.0 C293.5,687.2 296.5,689.4 301.9,691.1 C307.3,692.9 314.8,694.6 325.5,695.5 C336.2,696.4 359.2,696.2 366.0,696.4" stroke-width="1.7" fill="none" />
<g stroke="#222">
<rect x="373.4" y="696.0" width="24" height="8" rx="3.5" fill="#fff" stroke-width="1.5"/>
<path d="M377.4,696.7 L377.4,703.3" stroke-width="1.1" fill="none" />
<path d="M380.3,696.7 L380.3,703.3" stroke-width="1.1" fill="none" />
<path d="M383.2,696.7 L383.2,703.3" stroke-width="1.1" fill="none" />
<path d="M386.1,696.7 L386.1,703.3" stroke-width="1.1" fill="none" />
<path d="M389.0,696.7 L389.0,703.3" stroke-width="1.1" fill="none" />
<path d="M391.9,696.7 L391.9,703.3" stroke-width="1.1" fill="none" />
<path d="M394.8,696.7 L394.8,703.3" stroke-width="1.1" fill="none" />
<ellipse cx="370.4" cy="700.0" rx="5.0" ry="9.5" transform="rotate(0 370.4 700.0)" stroke-width="1.8" fill="#fff" />
<ellipse cx="371.4" cy="700.0" rx="2.2" ry="6.0" transform="rotate(0 371.4 700.0)" stroke-width="1.1" fill="none" />
<path d="M380.4,695.0 L385.4,691.5 L391.4,692.5 L393.4,700.5 L391.4,707.5 L385.4,708.5 L380.4,705.0Z" stroke-width="1.6" fill="#fff" />
<path d="M380.4,695.0 L386.4,697.5 L393.4,700.5" stroke-width="1.0" fill="none" />
<path d="M386.4,697.5 L385.4,708.5" stroke-width="1.0" fill="none" />
</g>
<path d="M303.6,661.4 C315,657 332,653.5 346.5,656 L347.4,680.6 L326.4,686 L326.4,695.5 L310,694 L301.9,691.1 L293.1,685 L299.25,678 L294.9,671.4 L301.9,670.1 L307.1,668.4 L308,664 Z" fill="#fff" stroke-width="1.9"/>
<path d="M294.9,671.4 C295.8,672.2 297.5,675.1 300.1,676.2 C302.7,677.4 306.4,678.0 310.6,678.4 C314.8,678.8 323.0,678.8 325.5,678.9" stroke-width="1.6" fill="none" />
<path d="M325.5,678.9 L326.4,695.5" stroke-width="1.6" fill="none" />
<path d="M321.1,666.6 L346.0,657.5" stroke-width="1.5" fill="none" />
<path d="M321.1,666.6 C321.0,667.3 319.8,669.0 320.5,671.0 C321.2,673.0 324.7,677.6 325.5,678.9" stroke-width="1.5" fill="none" />
<rect x="322" y="668" width="23" height="6" rx="3" transform="rotate(-14 333 671)" stroke-width="1.5" fill="#fff"/>
<path d="M299.2,678.0 C299.0,678.6 295.9,681.1 297.5,681.5 C299.1,681.9 306.3,679.7 308.9,680.6 C311.5,681.5 313.1,684.9 313.2,686.8 C313.4,688.6 310.3,691.1 309.8,692.0" stroke-width="1.4" fill="none" />
<ellipse cx="334.0" cy="665.0" rx="1.6" ry="1.3" transform="rotate(0 334.0 665.0)" stroke-width="1.1" fill="none" />
</g>
<use href="#clamp" transform="translate(-2 47)"/>
</g>
<g font-size="20">
<text x="179" y="37.5">102.0279</text>
<text x="316.5" y="29.5">102.0287</text>
<text x="337" y="120.5">102.0282</text>
<text x="461" y="76">*109.0234</text>
<text x="495" y="148">102.0276</text>
<text x="613" y="96">*109.0277</text>
<text x="652.5" y="188">102.0278</text>
<text x="80.5" y="90">102.0175</text>
<text x="374.5" y="258.5">102.0280</text>
<text x="151" y="531">102.0165</text>
<text x="590.5" y="342.5">102.0254</text>
<text x="482" y="374">102.0157</text>
<text x="410.5" y="472.5">102.0254</text>
<text x="576.5" y="427.5">102.0273</text>
<text x="645.5" y="486.5">*109.0275</text>
<text x="474.5" y="633.5">*109.0275</text>
<text x="555.5" y="756.5">102.0166</text>
</g><g font-size="18">
<text x="178.5" y="719">102.0177</text>
<text x="178.5" y="779">102.0178</text>
<text x="302" y="783.5">101.0179</text>
</g>
<text x="0" y="0" font-size="15" transform="translate(656,728.5) rotate(-25)">SUEVIA</text>
</svg>
</body></html>
